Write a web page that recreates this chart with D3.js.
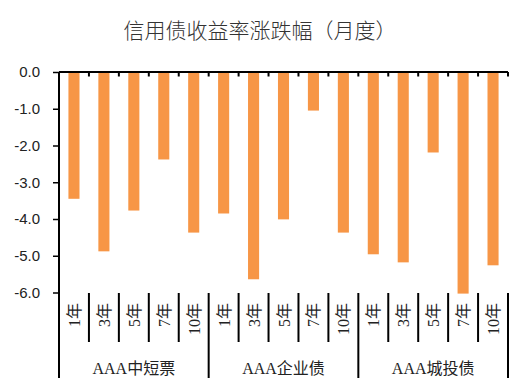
<!DOCTYPE html>
<html>
<head>
<meta charset="utf-8">
<script src="https://cdn.jsdelivr.net/npm/d3@7"></script>
<style>
  body { margin: 0; background: #fff; }
  svg { display: block; }
</style>
</head>
<body>
<svg id="canvas" width="531" height="390"></svg>
<script>
let groups = ["AAA中短票", "AAA企业债", "AAA城投债"]
let terms = ["1年", "3年", "5年", "7年", "10年"]
let values = [
  -3.45, -4.88, -3.77, -2.38, -4.37,
  -3.85, -5.64, -4.01, -1.05, -4.37,
  -4.96, -5.18, -2.19, -6.03, -5.26
]
let yTicks = [0, -1, -2, -3, -4, -5, -6]

let canvas = d3.select("#canvas")

let plotLeft = 59, plotRight = 508, plotTop = 72, plotBottom = 292.5
let innerBottom = 342, outerBottom = 378

let categories = []
groups.forEach((g, gi) => {
  terms.forEach((t, ti) => {
    categories.push({ group: g, term: t, value: values[gi * terms.length + ti], idx: gi * terms.length + ti })
  })
})

let x = d3.scaleBand()
  .domain(categories.map(d => d.idx))
  .range([plotLeft, plotRight])
  .padding(0)

let y = d3.scaleLinear()
  .domain([-6, 0])
  .range([plotBottom, plotTop])

let barW = x.bandwidth() * 0.37

// title
canvas.append("text")
  .attr("x", 260)
  .attr("y", 38)
  .attr("text-anchor", "middle")
  .style("font-family", "'Noto Sans CJK SC', sans-serif")
  .style("font-size", "21px")
  .style("font-weight", 300)
  .style("fill", "#333")
  .text("信用债收益率涨跌幅（月度）")

// bars
canvas.selectAll("rect.bar")
  .data(categories)
  .enter()
  .append("rect")
  .attr("class", "bar")
  .attr("x", d => x(d.idx) + (x.bandwidth() - barW) / 2)
  .attr("y", y(0))
  .attr("width", barW)
  .attr("height", d => y(d.value) - y(0))
  .attr("fill", "#F79646")

// y axis
let yAxis = canvas.append("g")
  .attr("transform", `translate(${plotLeft},0)`)
  .call(d3.axisLeft(y).tickValues(yTicks).tickFormat(d => d.toFixed(1)).tickSize(6).tickSizeOuter(0))
yAxis.select(".domain").remove()
yAxis.selectAll(".tick line").attr("stroke", "#000").attr("stroke-width", 1.5)
yAxis.selectAll(".tick text")
  .attr("x", -19)
  .style("font-family", "'Liberation Sans', Arial, sans-serif")
  .style("font-size", "15px")
  .style("fill", "#222")

// left axis line, extended through the label area
canvas.append("line")
  .attr("x1", plotLeft).attr("x2", plotLeft)
  .attr("y1", plotTop).attr("y2", outerBottom)
  .attr("stroke", "#000").attr("stroke-width", 2)

// zero line with small ticks
canvas.append("line")
  .attr("x1", plotLeft).attr("x2", plotRight)
  .attr("y1", y(0)).attr("y2", y(0))
  .attr("stroke", "#000").attr("stroke-width", 2)

let bounds = d3.range(categories.length + 1).map(i => plotLeft + i * x.bandwidth())
canvas.selectAll("line.ztick")
  .data(bounds)
  .enter()
  .append("line")
  .attr("x1", d => d).attr("x2", d => d)
  .attr("y1", y(0)).attr("y2", y(0) + 4.5)
  .attr("stroke", "#000").attr("stroke-width", 2)

// category separators
canvas.selectAll("line.sep")
  .data(bounds.slice(1))
  .enter()
  .append("line")
  .attr("x1", d => d).attr("x2", d => d)
  .attr("y1", plotBottom + 0.5)
  .attr("y2", (d, i) => ((i + 1) % terms.length === 0) ? outerBottom : innerBottom)
  .attr("stroke", "#000").attr("stroke-width", 2)

// term labels (rotated, end anchored at the top)
canvas.selectAll("text.term")
  .data(categories)
  .enter()
  .append("text")
  .attr("transform", d => `translate(${x(d.idx) + x.bandwidth() / 2 + 6},303) rotate(-90)`)
  .attr("text-anchor", "end")
  .style("font-family", "'Liberation Serif', 'Noto Sans CJK SC', serif")
  .style("font-size", "16px")
  .style("fill", "#222")
  .text(d => d.term)

// group labels
canvas.selectAll("text.group")
  .data(groups)
  .enter()
  .append("text")
  .attr("x", (d, i) => plotLeft + (i * terms.length + terms.length / 2) * x.bandwidth())
  .attr("y", 374)
  .attr("text-anchor", "middle")
  .style("font-family", "'Liberation Serif', 'Noto Sans CJK SC', serif")
  .style("font-size", "16px")
  .style("fill", "#222")
  .text(d => d)
</script>
</body>
</html>
